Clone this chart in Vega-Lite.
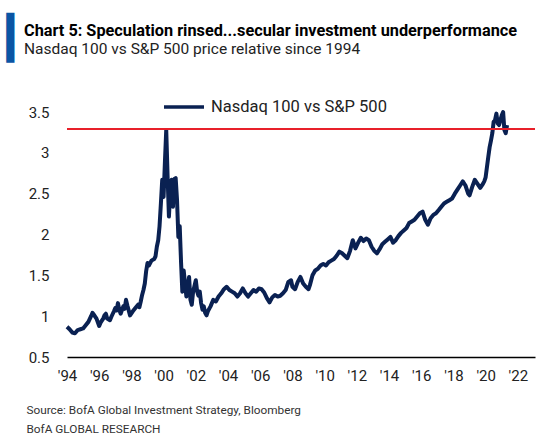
{
  "$schema": "https://vega.github.io/schema/vega-lite/v6.json",
  "autosize": "none",
  "width": 468,
  "height": 245,
  "padding": {"left": 67, "top": 112, "right": 11, "bottom": 91},
  "background": "white",
  "title": {
    "text": "Chart 5: Speculation rinsed...secular investment underperformance",
    "subtitle": "Nasdaq 100 vs S&P 500 price relative since 1994",
    "anchor": "start",
    "frame": "group",
    "dx": -43,
    "offset": -41,
    "font": "Roboto",
    "fontSize": 16.3,
    "fontWeight": "bold",
    "color": "#000000",
    "subtitleFont": "Roboto",
    "subtitleFontSize": 15.5,
    "subtitleColor": "#222222",
    "subtitlePadding": 3
  },
  "config": {
    "view": {"stroke": null},
    "font": "Roboto"
  },
  "data": {
    "values": [
      {"d": "1994-01", "v": 0.87}, {"d": "1994-03", "v": 0.84}, {"d": "1994-05", "v": 0.80}, {"d": "1994-07", "v": 0.79},
      {"d": "1994-09", "v": 0.83}, {"d": "1994-11", "v": 0.84}, {"d": "1995-01", "v": 0.85}, {"d": "1995-03", "v": 0.89},
      {"d": "1995-05", "v": 0.93}, {"d": "1995-07", "v": 1.00}, {"d": "1995-08", "v": 1.04}, {"d": "1995-09", "v": 1.02},
      {"d": "1995-11", "v": 0.97}, {"d": "1996-01", "v": 0.88}, {"d": "1996-02", "v": 0.92}, {"d": "1996-04", "v": 0.97},
      {"d": "1996-05", "v": 1.01}, {"d": "1996-06", "v": 1.03}, {"d": "1996-07", "v": 0.97}, {"d": "1996-09", "v": 0.95},
      {"d": "1996-10", "v": 0.99}, {"d": "1996-12", "v": 1.06}, {"d": "1997-01", "v": 1.10}, {"d": "1997-02", "v": 1.07},
      {"d": "1997-03", "v": 1.16}, {"d": "1997-04", "v": 1.08}, {"d": "1997-05", "v": 1.03}, {"d": "1997-07", "v": 1.12},
      {"d": "1997-08", "v": 1.09}, {"d": "1997-09", "v": 1.20}, {"d": "1997-10", "v": 1.13}, {"d": "1997-12", "v": 1.01},
      {"d": "1998-02", "v": 1.06}, {"d": "1998-04", "v": 1.10}, {"d": "1998-06", "v": 1.14}, {"d": "1998-07", "v": 1.11},
      {"d": "1998-08", "v": 1.18}, {"d": "1998-09", "v": 1.26}, {"d": "1998-10", "v": 1.32}, {"d": "1998-11", "v": 1.40},
      {"d": "1998-12", "v": 1.55}, {"d": "1999-01", "v": 1.65}, {"d": "1999-02", "v": 1.62}, {"d": "1999-04", "v": 1.68},
      {"d": "1999-06", "v": 1.70}, {"d": "1999-07", "v": 1.73}, {"d": "1999-08", "v": 1.85}, {"d": "1999-09", "v": 1.93},
      {"d": "1999-10", "v": 2.10}, {"d": "1999-11", "v": 2.38}, {"d": "1999-12", "v": 2.67}, {"d": "2000-01", "v": 2.46},
      {"d": "2000-02", "v": 2.90}, {"d": "2000-03", "v": 3.28}, {"d": "2000-04", "v": 2.71}, {"d": "2000-05", "v": 2.22},
      {"d": "2000-06", "v": 2.55}, {"d": "2000-07", "v": 2.67}, {"d": "2000-08", "v": 2.34}, {"d": "2000-09", "v": 2.68},
      {"d": "2000-10", "v": 2.69}, {"d": "2000-11", "v": 2.42}, {"d": "2000-12", "v": 1.97}, {"d": "2001-01", "v": 2.10},
      {"d": "2001-02", "v": 1.65}, {"d": "2001-03", "v": 1.30}, {"d": "2001-04", "v": 1.56}, {"d": "2001-05", "v": 1.40},
      {"d": "2001-06", "v": 1.24}, {"d": "2001-07", "v": 1.35}, {"d": "2001-08", "v": 1.48}, {"d": "2001-09", "v": 1.20},
      {"d": "2001-10", "v": 1.14}, {"d": "2001-11", "v": 1.30}, {"d": "2002-01", "v": 1.44}, {"d": "2002-02", "v": 1.30},
      {"d": "2002-03", "v": 1.25}, {"d": "2002-04", "v": 1.30}, {"d": "2002-05", "v": 1.16}, {"d": "2002-06", "v": 1.08},
      {"d": "2002-07", "v": 1.12}, {"d": "2002-08", "v": 1.04}, {"d": "2002-09", "v": 1.01}, {"d": "2002-10", "v": 1.06},
      {"d": "2002-12", "v": 1.12}, {"d": "2003-02", "v": 1.20}, {"d": "2003-04", "v": 1.18}, {"d": "2003-06", "v": 1.24},
      {"d": "2003-08", "v": 1.28}, {"d": "2003-10", "v": 1.33}, {"d": "2003-12", "v": 1.36}, {"d": "2004-02", "v": 1.32},
      {"d": "2004-04", "v": 1.30}, {"d": "2004-06", "v": 1.28}, {"d": "2004-08", "v": 1.24}, {"d": "2004-10", "v": 1.28},
      {"d": "2004-12", "v": 1.34}, {"d": "2005-02", "v": 1.28}, {"d": "2005-04", "v": 1.24}, {"d": "2005-06", "v": 1.28},
      {"d": "2005-08", "v": 1.32}, {"d": "2005-10", "v": 1.30}, {"d": "2005-12", "v": 1.34}, {"d": "2006-02", "v": 1.33},
      {"d": "2006-04", "v": 1.29}, {"d": "2006-06", "v": 1.22}, {"d": "2006-08", "v": 1.17}, {"d": "2006-10", "v": 1.23},
      {"d": "2006-12", "v": 1.26}, {"d": "2007-02", "v": 1.24}, {"d": "2007-04", "v": 1.25}, {"d": "2007-06", "v": 1.28},
      {"d": "2007-08", "v": 1.32}, {"d": "2007-10", "v": 1.42}, {"d": "2007-12", "v": 1.44}, {"d": "2008-01", "v": 1.36},
      {"d": "2008-03", "v": 1.33}, {"d": "2008-05", "v": 1.42}, {"d": "2008-07", "v": 1.48}, {"d": "2008-09", "v": 1.40},
      {"d": "2008-11", "v": 1.36}, {"d": "2009-01", "v": 1.33}, {"d": "2009-02", "v": 1.38}, {"d": "2009-04", "v": 1.50},
      {"d": "2009-06", "v": 1.56}, {"d": "2009-08", "v": 1.58}, {"d": "2009-10", "v": 1.62}, {"d": "2009-12", "v": 1.64},
      {"d": "2010-02", "v": 1.62}, {"d": "2010-04", "v": 1.66}, {"d": "2010-06", "v": 1.68}, {"d": "2010-08", "v": 1.70},
      {"d": "2010-10", "v": 1.74}, {"d": "2010-12", "v": 1.79}, {"d": "2011-02", "v": 1.77}, {"d": "2011-04", "v": 1.74},
      {"d": "2011-06", "v": 1.71}, {"d": "2011-08", "v": 1.80}, {"d": "2011-10", "v": 1.93}, {"d": "2011-12", "v": 1.83},
      {"d": "2012-02", "v": 1.90}, {"d": "2012-04", "v": 1.96}, {"d": "2012-06", "v": 1.92}, {"d": "2012-08", "v": 1.95},
      {"d": "2012-10", "v": 1.93}, {"d": "2012-12", "v": 1.85}, {"d": "2013-02", "v": 1.80}, {"d": "2013-04", "v": 1.77},
      {"d": "2013-06", "v": 1.82}, {"d": "2013-08", "v": 1.88}, {"d": "2013-10", "v": 1.91}, {"d": "2013-12", "v": 1.94},
      {"d": "2014-02", "v": 1.97}, {"d": "2014-04", "v": 1.90}, {"d": "2014-06", "v": 1.93}, {"d": "2014-08", "v": 1.98},
      {"d": "2014-10", "v": 2.02}, {"d": "2014-12", "v": 2.05}, {"d": "2015-02", "v": 2.08}, {"d": "2015-04", "v": 2.14},
      {"d": "2015-06", "v": 2.16}, {"d": "2015-08", "v": 2.18}, {"d": "2015-10", "v": 2.22}, {"d": "2015-12", "v": 2.26},
      {"d": "2016-02", "v": 2.28}, {"d": "2016-04", "v": 2.18}, {"d": "2016-06", "v": 2.12}, {"d": "2016-08", "v": 2.20},
      {"d": "2016-10", "v": 2.24}, {"d": "2016-12", "v": 2.26}, {"d": "2017-02", "v": 2.30}, {"d": "2017-04", "v": 2.34},
      {"d": "2017-06", "v": 2.38}, {"d": "2017-08", "v": 2.40}, {"d": "2017-10", "v": 2.42}, {"d": "2017-12", "v": 2.44},
      {"d": "2018-02", "v": 2.50}, {"d": "2018-04", "v": 2.55}, {"d": "2018-06", "v": 2.60}, {"d": "2018-08", "v": 2.65},
      {"d": "2018-10", "v": 2.60}, {"d": "2018-12", "v": 2.50}, {"d": "2019-01", "v": 2.48}, {"d": "2019-03", "v": 2.58},
      {"d": "2019-05", "v": 2.67}, {"d": "2019-07", "v": 2.62}, {"d": "2019-09", "v": 2.57}, {"d": "2019-11", "v": 2.62},
      {"d": "2019-12", "v": 2.65}, {"d": "2020-01", "v": 2.70}, {"d": "2020-02", "v": 2.83}, {"d": "2020-03", "v": 2.95},
      {"d": "2020-04", "v": 3.07}, {"d": "2020-05", "v": 3.15}, {"d": "2020-06", "v": 3.24}, {"d": "2020-07", "v": 3.38},
      {"d": "2020-08", "v": 3.40}, {"d": "2020-09", "v": 3.48}, {"d": "2020-10", "v": 3.36}, {"d": "2020-11", "v": 3.34},
      {"d": "2020-12", "v": 3.40}, {"d": "2021-01", "v": 3.46}, {"d": "2021-02", "v": 3.50}, {"d": "2021-03", "v": 3.28},
      {"d": "2021-04", "v": 3.24}, {"d": "2021-05", "v": 3.34}
    ]
  },
  "layer": [
    {
      "mark": {"type": "line", "strokeWidth": 4, "strokeJoin": "round"},
      "encoding": {
        "x": {
          "field": "d",
          "type": "temporal",
          "scale": {"domain": [{"year": 1994, "month": 1, "date": 1, "utc": true}, {"year": 2023, "month": 1, "date": 25, "utc": true}]},
          "axis": {
            "values": [
              {"year": 1994, "month": 1, "date": 1, "utc": true}, {"year": 1996, "month": 1, "date": 1, "utc": true},
              {"year": 1998, "month": 1, "date": 1, "utc": true}, {"year": 2000, "month": 1, "date": 1, "utc": true},
              {"year": 2002, "month": 1, "date": 1, "utc": true}, {"year": 2004, "month": 1, "date": 1, "utc": true},
              {"year": 2006, "month": 1, "date": 1, "utc": true}, {"year": 2008, "month": 1, "date": 1, "utc": true},
              {"year": 2010, "month": 1, "date": 1, "utc": true}, {"year": 2012, "month": 1, "date": 1, "utc": true},
              {"year": 2014, "month": 1, "date": 1, "utc": true}, {"year": 2016, "month": 1, "date": 1, "utc": true},
              {"year": 2018, "month": 1, "date": 1, "utc": true}, {"year": 2020, "month": 1, "date": 1, "utc": true},
              {"year": 2022, "month": 1, "date": 1, "utc": true}
            ],
            "labelExpr": "\"'\" + utcFormat(datum.value, '%y')",
            "labelFont": "Roboto",
            "labelFontSize": 15,
            "labelColor": "#222222",
            "labelPadding": 11,
            "labelFlush": false,
            "labelOverlap": false,
            "ticks": false,
            "grid": false,
            "domain": true,
            "domainColor": "#000000",
            "domainWidth": 1.5,
            "title": ["Source:  BofA Global Investment Strategy, Bloomberg", "BofA GLOBAL RESEARCH"],
            "titleFont": "Roboto",
            "titleFontSize": 11.8,
            "titleFontWeight": "normal",
            "titleColor": "#333333",
            "titleAnchor": "start",
            "titleAlign": "left",
            "titleBaseline": "top",
            "titleX": -41,
            "titleY": 47,
            "titleLineHeight": 19
          }
        },
        "y": {
          "field": "v",
          "type": "quantitative",
          "scale": {"domain": [0.5, 3.5], "nice": false, "zero": false},
          "axis": {
            "values": [0.5, 1, 1.5, 2, 2.5, 3, 3.5],
            "format": ".1~f",
            "labelFont": "Roboto",
            "labelFontSize": 15,
            "labelColor": "#222222",
            "labelPadding": 18,
            "labelFlush": false,
            "ticks": false,
            "grid": false,
            "domain": false,
            "title": "▎",
            "titleFont": "DejaVu Sans",
            "titleFontSize": 42,
            "titleFontWeight": "normal",
            "titleColor": "#0a55a5",
            "titleAngle": 0,
            "titleAlign": "left",
            "titleBaseline": "top",
            "titleX": -61,
            "titleY": -94
          }
        },
        "color": {
          "datum": "Nasdaq 100 vs S&P 500",
          "type": "nominal",
          "scale": {"range": ["#0a2152"]},
          "legend": {
            "orient": "none",
            "legendX": 95,
            "legendY": -27,
            "title": null,
            "symbolType": "stroke",
            "symbolSize": 1600,
            "symbolStrokeWidth": 3.5,
            "labelFont": "Roboto",
            "labelFontSize": 16.5,
            "labelLimit": 400,
            "labelColor": "#222222",
            "labelOffset": 5,
            "padding": 0
          }
        }
      }
    },
    {
      "mark": {"type": "rule", "color": "#e8202a", "strokeWidth": 1.5},
      "encoding": {"y": {"datum": 3.29}}
    }
  ]
}
